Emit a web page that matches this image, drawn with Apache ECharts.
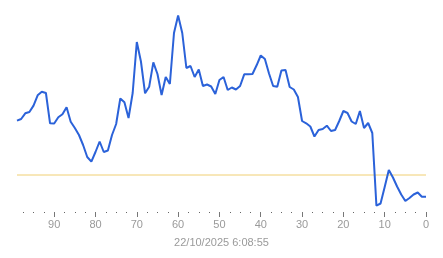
<!DOCTYPE html>
<html>
<head>
<meta charset="utf-8">
<script src="https://cdn.jsdelivr.net/npm/echarts@6/dist/echarts.min.js"></script>
<style>
html,body{margin:0;padding:0;background:#fff;}
#chart{width:443px;height:258px;}
</style>
</head>
<body>
<div id="chart"></div>
<script>
// x positions: 99 (oldest, left) down to 0 (latest, right)
const xValues = Array.from({length: 100}, (_, i) => 99 - i);
// line values (arbitrary units)
const seriesValues = [
  91.3, 93, 98.7, 100, 106.4, 116.7, 120.3, 119, 88.7, 88.5,
  94.7, 97.8, 104.7, 90.3, 84, 77, 67, 55, 50.3, 60,
  70.5, 60, 61.5, 77, 88, 113.5, 109.7, 94, 119, 170,
  150.5, 118.7, 125.3, 149.7, 138, 117, 135, 128, 179, 196.5,
  179, 144, 146, 135, 142.5, 126, 127.5, 125.5, 118, 132,
  135, 122, 124.5, 122.5, 126, 137.7, 137.7, 138, 146.7, 156.5,
  153, 138.5, 126, 125.3, 141.5, 142, 125, 122.5, 115, 91,
  88.7, 85.5, 75.5, 82, 83, 86.3, 81, 82, 91, 101,
  99, 90.5, 88, 101, 84, 89, 79, 6.3, 8.5, 25,
  42, 34.5, 25.5, 17.5, 11, 14, 17.5, 19.5, 15.3, 15.3
];
const thresholdValue = 37;
const thresholdRange = [0, 99];
const tickLabels = [0, 10, 20, 30, 40, 50, 60, 70, 80, 90];
const timestampText = '22/10/2025 6:08:55';

const isMajor = (index, value) => tickLabels.indexOf(Number(value)) !== -1;

const chart = echarts.init(document.getElementById('chart'), null, {renderer: 'canvas'});
chart.setOption({
  animation: false,
  grid: {left: 17, right: 17, top: 2, bottom: 46},
  xAxis: [
    {
      type: 'value',
      position: 'bottom',
      inverse: true,
      min: 0,
      max: 99,
      interval: 10,
      name: timestampText,
      nameLocation: 'middle',
      nameGap: 25,
      nameTextStyle: {color: '#9a9a9a', fontSize: 11, fontFamily: 'Liberation Sans'},
      axisLine: {show: false},
      axisTick: {show: false},
      minorTick: {show: true, splitNumber: 4, length: 1, lineStyle: {color: '#666', width: 1}},
      axisLabel: {show: false},
      splitLine: {show: false}
    },
    {
      type: 'category',
      position: 'bottom',
      offset: 0,
      boundaryGap: false,
      data: xValues.map(String),
      axisLine: {show: false},
      axisTick: {show: true, length: 5, interval: isMajor, lineStyle: {color: '#777', width: 1}},
      axisLabel: {show: true, interval: isMajor, color: '#9a9a9a', fontSize: 11, fontFamily: 'Liberation Sans', margin: 7},
      splitLine: {show: false}
    }
  ],
  yAxis: {
    type: 'value',
    min: 0,
    max: 210,
    show: false,
    splitLine: {show: false}
  },
  series: [
    {
      type: 'line',
      xAxisIndex: 0,
      data: thresholdRange.map(x => [x, thresholdValue]),
      showSymbol: false,
      silent: true,
      lineStyle: {color: '#f0cf72', width: 1}
    },
    {
      type: 'line',
      xAxisIndex: 0,
      data: xValues.map((x, i) => [x, seriesValues[i]]),
      showSymbol: false,
      lineStyle: {color: '#2b62d9', width: 2}
    }
  ]
});
</script>
</body>
</html>
